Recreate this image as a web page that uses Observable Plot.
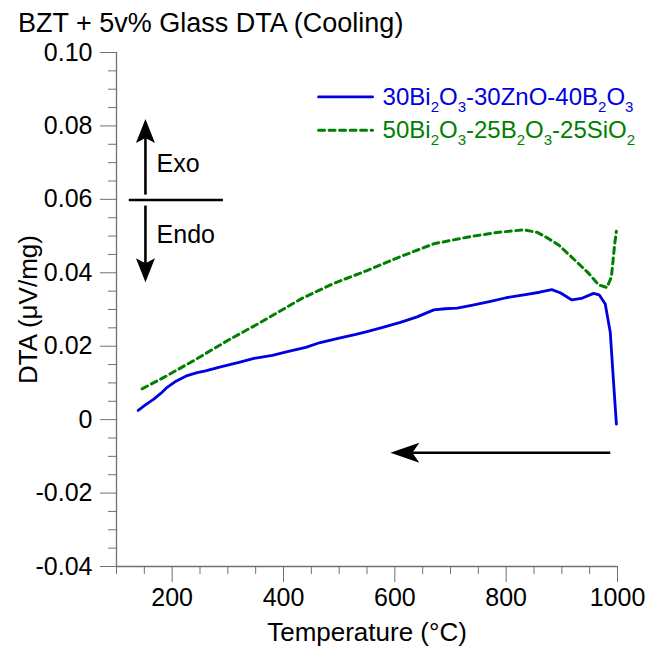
<!DOCTYPE html>
<html><head><meta charset="utf-8">
<script src="https://cdn.jsdelivr.net/npm/d3@7"></script>
<script src="https://cdn.jsdelivr.net/npm/@observablehq/plot@0.6"></script>
<style>
body{margin:0;background:#fff;font-family:"Liberation Sans",Arial,sans-serif;}
#title{height:30px;padding:8px 0 0 18px;font-size:27px;line-height:30px;color:#000;white-space:nowrap;}
</style></head><body>
<div id="title">BZT + 5v% Glass DTA (Cooling)</div>
<div id="chart"></div>
<script>
// ---- data ----
const seriesNames = ["30Bi₂O₃-30ZnO-40B₂O₃", "50Bi₂O₃-25B₂O₃-25SiO₂"];
const blueT = [139,152,167,180,191,205,227,245,260,287,320,347,380,407,440,466,500,530,550,580,610,640,670,690,712,740,772,800,832,860,882,898,918,935,957,967,978,987,993,998];
const blueV = [0.0025,0.0040,0.0056,0.0072,0.0088,0.0103,0.0120,0.0128,0.0133,0.0144,0.0156,0.0167,0.0175,0.0185,0.0197,0.0210,0.0222,0.0232,0.0240,0.0252,0.0265,0.0280,0.0299,0.0302,0.0304,0.0312,0.0322,0.0332,0.0340,0.0347,0.0354,0.0345,0.0326,0.0330,0.0344,0.0340,0.0315,0.0238,0.0100,-0.0012];
const greenT = [146,185,239,299,359,418,434,490,550,610,670,730,784,832,856,874,895,913,930,948,966,981,989,995,998];
const greenV = [0.0084,0.0115,0.0161,0.0215,0.0265,0.0317,0.0331,0.0371,0.0406,0.0444,0.0479,0.0497,0.0510,0.0517,0.0510,0.0495,0.0475,0.0449,0.0425,0.0399,0.0367,0.0360,0.0388,0.0479,0.0513];
const xMajor = [200,400,600,800,1000];
const xTickLabels = ["200","400","600","800","1000"];
const xMinor = [100,150,250,300,350,450,500,550,650,700,750,850,900,950];
const yMajor = [-0.04,-0.02,0,0.02,0.04,0.06,0.08,0.10];
const yTickLabels = ["-0.04","-0.02","0","0.02","0.04","0.06","0.08","0.10"];
const yMinor = [-0.035,-0.03,-0.025,-0.015,-0.01,-0.005,0.005,0.01,0.015,0.025,0.03,0.035,0.045,0.05,0.055,0.065,0.07,0.075,0.085,0.09,0.095];
const xLabel = "Temperature (°C)";
const yLabel = "DTA (μV/mg)";
const annoTexts = ["Exo", "Endo"];

// ---- annotations (data coordinates) ----
const exoEndoRule = [{x1:123, x2:292, y:0.0598}];
const shafts = [
  {x1:152, y1:0.0613, x2:152, y2:0.0775},
  {x1:152, y1:0.0583, x2:152, y2:0.0420},
  {x1:987, y1:-0.0090, x2:600, y2:-0.0090}
];
const vHeads = [{x:152, y:0.0819, r:0}, {x:152, y:0.0374, r:180}];
const hHeads = [{x:592, y:-0.0090, r:-90}];
const annoPos = [{x:172, y:0.0697}, {x:172, y:0.0504}];
const legendLinePos = [{x1:463, x2:560, y:0.0879}, {x1:463, x2:560, y:0.0788}];
const legendTextX = 578;

const blueColor = "#0000e0", greenColor = "#008000";
const blue = blueT.map((t,i)=>({T:t, v:blueV[i]}));
const green = greenT.map((t,i)=>({T:t, v:greenV[i]}));
const legendBlue = [{T:legendLinePos[0].x1, v:legendLinePos[0].y},{T:legendLinePos[0].x2, v:legendLinePos[0].y}];
const legendGreen = [{T:legendLinePos[1].x1, v:legendLinePos[1].y},{T:legendLinePos[1].x2, v:legendLinePos[1].y}];

const stealthV = {draw(ctx){ ctx.moveTo(0,0); ctx.lineTo(9.5,24); ctx.lineTo(0,19); ctx.lineTo(-9.5,24); ctx.closePath(); }};
const stealthH = {draw(ctx){ ctx.moveTo(0,0); ctx.lineTo(10,29); ctx.lineTo(0,22); ctx.lineTo(-10,29); ctx.closePath(); }};

const gray = "#707070";
const fmtIdx = (arr, labels) => d => labels[arr.findIndex(m => Math.abs(m - d) < 1e-9)];
const chart = Plot.plot({
  width: 647, height: 608,
  marginTop: 14, marginBottom: 80, marginLeft: 116, marginRight: 30,
  style: {fontFamily: '"Liberation Sans", Arial, sans-serif', background: "#fff"},
  x: {domain: [100, 1000]},
  y: {domain: [-0.04, 0.10]},
  marks: [
    Plot.axisY({ticks: yMinor, tickSize: 8, tickFormat: () => "", stroke: gray, label: null}),
    Plot.axisY({ticks: yMajor, tickSize: 16, tickPadding: 8, fontSize: 25, stroke: gray, fill: "#000",
      tickFormat: fmtIdx(yMajor, yTickLabels), label: null}),
    Plot.axisX({ticks: xMinor, tickSize: 8, tickFormat: () => "", stroke: gray, label: null}),
    Plot.axisX({ticks: xMajor, tickSize: 16, tickPadding: 6, fontSize: 25, stroke: gray, fill: "#000",
      tickFormat: fmtIdx(xMajor, xTickLabels), label: null}),
    Plot.ruleX([100], {stroke: gray, strokeWidth: 1.3}),
    Plot.ruleY([-0.04], {stroke: gray, strokeWidth: 1.3}),
    Plot.text([xLabel], {frameAnchor: "bottom", dy: 66, fontSize: 26, textAnchor: "middle", lineAnchor: "middle", fill: "#000"}),
    Plot.text([yLabel], {frameAnchor: "left", dx: -88, rotate: -90, fontSize: 26, textAnchor: "middle", lineAnchor: "middle", fill: "#000"}),
    // curves
    Plot.line(green, {x: "T", y: "v", stroke: greenColor, strokeWidth: 3, strokeDasharray: "6 4.5"}),
    Plot.line(blue, {x: "T", y: "v", stroke: blueColor, strokeWidth: 2.8}),
    // legend
    Plot.line(legendBlue, {x: "T", y: "v", stroke: blueColor, strokeWidth: 2.8}),
    Plot.line(legendGreen, {x: "T", y: "v", stroke: greenColor, strokeWidth: 3, strokeDasharray: "6 4.5"}),
    Plot.text([seriesNames[0]], {x: legendTextX, y: legendLinePos[0].y, textAnchor: "start", lineAnchor: "middle", fontSize: 24, fill: blueColor}),
    Plot.text([seriesNames[1]], {x: legendTextX, y: legendLinePos[1].y, textAnchor: "start", lineAnchor: "middle", fontSize: 24, fill: greenColor}),
    // exo / endo
    Plot.ruleY(exoEndoRule, {x1: "x1", x2: "x2", y: "y", stroke: "#000", strokeWidth: 2.5}),
    Plot.link(shafts, {x1: "x1", y1: "y1", x2: "x2", y2: "y2", stroke: "#000", strokeWidth: 2.6}),
    Plot.dot(vHeads, {x: "x", y: "y", rotate: "r", symbol: stealthV, fill: "#000", stroke: "none"}),
    Plot.dot(hHeads, {x: "x", y: "y", rotate: "r", symbol: stealthH, fill: "#000", stroke: "none"}),
    Plot.text(annoPos, {x: "x", y: "y", text: (d, i) => annoTexts[i], textAnchor: "start", lineAnchor: "middle", fontSize: 25, fill: "#000"})
  ]
});

// subscripts as real tspans
const subMap = {"₀":"0","₁":"1","₂":"2","₃":"3","₄":"4","₅":"5","₆":"6","₇":"7","₈":"8","₉":"9"};
d3.select(chart).selectAll("text").each(function(){
  const s = this.textContent;
  if (!/[\u2080-\u2089]/.test(s) || this.querySelector("tspan")) return;
  const el = d3.select(this); el.text(null);
  let shift = 0;
  for (const p of s.match(/[\u2080-\u2089]+|[^\u2080-\u2089]+/g)) {
    const isSub = /[\u2080-\u2089]/.test(p);
    const target = isSub ? 7 : 0;
    const t = el.append("tspan").attr("dy", target - shift).text(isSub ? [...p].map(c => subMap[c]).join("") : p);
    if (isSub) t.attr("font-size", 15);
    shift = target;
  }
});
document.getElementById("chart").appendChild(chart);
</script>
</body></html>
